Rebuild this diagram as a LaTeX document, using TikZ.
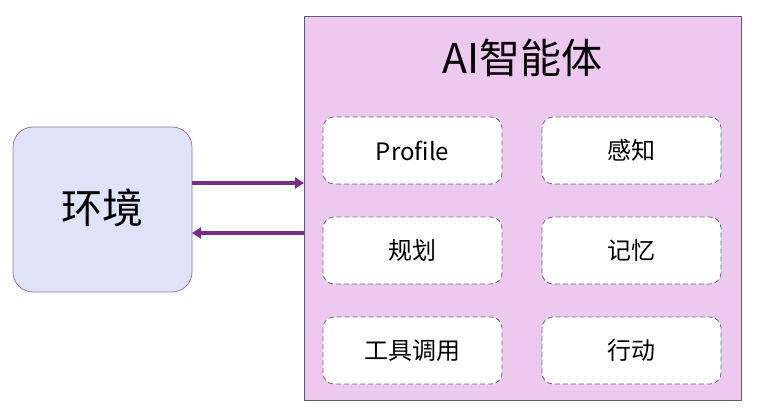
\documentclass[tikz,border=0pt]{standalone}
\usepackage{fontspec}
\setmainfont{Noto Sans CJK SC}
\usetikzlibrary{arrows.meta}
\definecolor{envfill}{HTML}{DEE3F7}
\definecolor{envdraw}{HTML}{A070B8}
\definecolor{agentfill}{HTML}{EDC8EF}
\definecolor{agentdraw}{HTML}{5E5A78}
\definecolor{arrowc}{HTML}{7A2D84}
\definecolor{dashc}{HTML}{6E6A86}
\begin{document}
\begin{tikzpicture}[x=1pt,y=-1pt,
  envbox/.style={draw=envdraw, fill=envfill, rounded corners=20pt, line width=0.8pt},
  agentbox/.style={draw=agentdraw, fill=agentfill, line width=1pt},
  modbox/.style={draw=dashc, fill=white, dashed, dash pattern=on 5pt off 3pt, rounded corners=11pt, line width=0.8pt},
  modtext/.style={font=\fontsize{24}{27}\selectfont, text=black},
  flow/.style={draw=arrowc, line width=3.5pt, -{Triangle[length=9pt,width=11pt]}}]
\useasboundingbox (0,0) rectangle (760,414);
\fill[white] (0,0) rectangle (760,414);
% environment
\draw[envbox] (13,127) rectangle (192,292);
\node[font=\fontsize{41}{44}\selectfont] (env) at (102.5,208) {环境};
\coordinate (envR) at (192,209.5);
% agent
\draw[agentbox] (304,17) rectangle (741,400);
\node[font=\fontsize{41}{44}\selectfont] (title) at (522.5,58) {AI智能体};
\coordinate (agentL) at (304,209.5);
% modules
\foreach \name/\x/\y/\t in {prof/323/117/Profile, perc/542/117/感知, plan/323/217/规划, mem/542/217/记忆, tool/323/317/工具调用, act/542/317/行动}{
  \draw[modbox] (\x,\y) rectangle ++(179,67);
  \node[modtext] (\name) at (\x+89.5,\y+33.5) {\t};
}
% arrows
\draw[flow] (envR |- 0,183) -- (agentL |- 0,183);
\draw[flow] (agentL |- 0,233) -- (envR |- 0,233);
\end{tikzpicture}
\end{document}
